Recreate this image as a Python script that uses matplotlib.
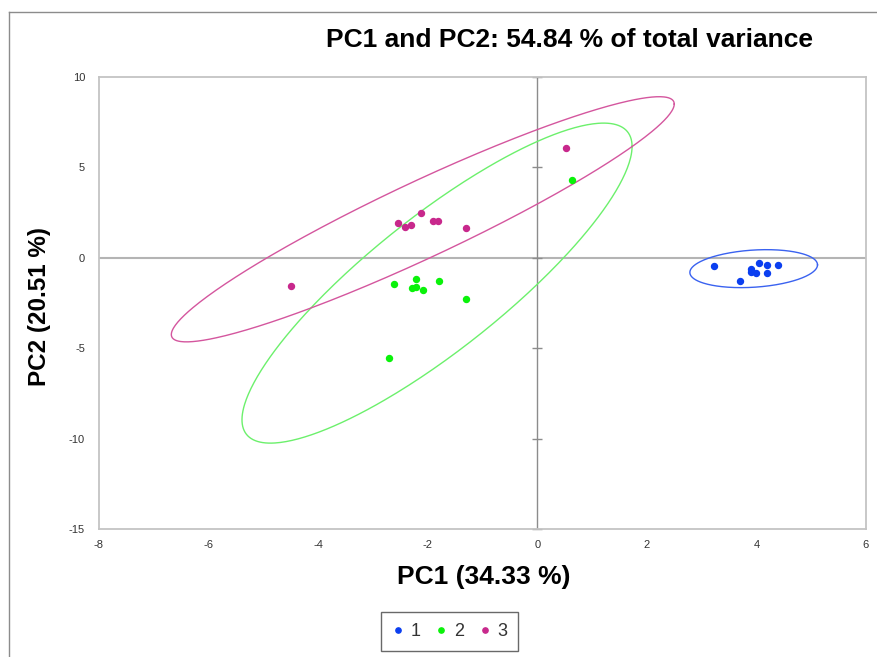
import numpy as np
import matplotlib
matplotlib.use("Agg")
import matplotlib.pyplot as plt
from matplotlib.lines import Line2D

plt.rcParams["font.family"] = ["Liberation Sans", "DejaVu Sans"]
plt.rcParams["axes.unicode_minus"] = False

# ---------- scores (PC1, PC2) per group ---------------------------------- #
groups = ["1", "2", "3"]
colors = ["#0b3ff0", "#0af20a", "#c8288c"]
ring_colors = ["#3a62f0", "#6cf06c", "#d4569e"]

pc1_g1 = [3.23, 4.05, 4.20, 4.39, 3.91, 3.90, 4.00, 4.20, 3.70]
pc2_g1 = [-0.45, -0.30, -0.42, -0.40, -0.64, -0.77, -0.82, -0.82, -1.27]

pc1_g2 = [-2.61, -2.21, -2.28, -2.22, -2.08, -1.79, -1.31, -2.71, 0.64]
pc2_g2 = [-1.43, -1.16, -1.67, -1.63, -1.78, -1.30, -2.26, -5.56, 4.30]

pc1_g3 = [-2.54, -2.42, -2.31, -2.13, -1.91, -1.82, -1.31, -4.50, 0.53]
pc2_g3 = [1.92, 1.72, 1.83, 2.50, 2.02, 2.02, 1.63, -1.55, 6.07]

# confidence ellipses: centre, half extents along PC1/PC2, correlation
ell_cx = [3.95, -1.83, -2.09]
ell_cy = [-0.60, -1.40, 2.13]
ell_sx = [1.165, 3.56, 4.59]
ell_sy = [1.05, 8.85, 6.78]
ell_r = [0.20, 0.854, 0.94]

x_ticks = [-8, -6, -4, -2, 0, 2, 4, 6]
y_ticks = [-15, -10, -5, 0, 5, 10]

pc1 = [pc1_g1, pc1_g2, pc1_g3]
pc2 = [pc2_g1, pc2_g2, pc2_g3]

fig = plt.figure(figsize=(8.78, 6.57), dpi=100)
ax = fig.add_axes([99 / 878, 1 - 529 / 657, 767 / 878, 452 / 657])

# centre lines through the origin
ax.axhline(0, color="#b4b4b4", lw=1.5, zorder=1)
ax.axvline(0, color="#8c8c8c", lw=1.0, zorder=1)
ax.plot([0] * len(y_ticks), y_ticks, ls="none", marker="_", ms=6.5,
        mew=1.0, color="#8c8c8c", zorder=1, clip_on=False)

t = np.linspace(0, 2 * np.pi, 400)
for i in range(3):
    ex = ell_cx[i] + ell_sx[i] * np.cos(t)
    ey = ell_cy[i] + ell_sy[i] * (ell_r[i] * np.cos(t)
                                  + np.sqrt(1 - ell_r[i] ** 2) * np.sin(t))
    ax.plot(ex, ey, color=ring_colors[i], lw=1.0, zorder=2)
    ax.plot(pc1[i], pc2[i], ls="none", marker="o", ms=4.3,
            color=colors[i], zorder=3)

ax.set_xlim(-8, 6)
ax.set_ylim(-15, 10)
ax.set_xticks(x_ticks)
ax.set_yticks(y_ticks)
ax.tick_params(length=0, labelsize=8, labelcolor="#333333")
ax.tick_params(axis="x", pad=8)
ax.tick_params(axis="y", pad=10)
for s in ax.spines.values():
    s.set_color("#c4c4c4")
    s.set_linewidth(1.3)

fig.text(570 / 878, 1 - 40 / 657, "PC1 and PC2: 54.84 % of total variance",
         ha="center", va="center", fontsize=19, fontweight="bold")
fig.text(484 / 878, 1 - 577 / 657, "PC1 (34.33 %)",
         ha="center", va="center", fontsize=19, fontweight="bold")
fig.text(40 / 878, 1 - 306 / 657, "PC2 (20.51 %)", rotation=90,
         ha="center", va="center", fontsize=17.5, fontweight="bold")

handles = [Line2D([], [], ls="none", marker="o", ms=3.8, color=c) for c in colors]
leg = fig.legend(handles, groups, loc="center", bbox_to_anchor=(449.5 / 878, 1 - 631.5 / 657),
                 ncol=3, frameon=True, fancybox=False, fontsize=13,
                 handlelength=0.7, handletextpad=0.35, columnspacing=0.8,
                 borderpad=0.6, labelcolor="#333333")
leg.get_frame().set_edgecolor("#444444")
leg.get_frame().set_linewidth(1.0)

# outer chart frame
fig.add_artist(Line2D([9 / 878, 9 / 878], [0, 1 - 12 / 657],
                      transform=fig.transFigure, color="#8c8c8c", lw=1.0))
fig.add_artist(Line2D([9 / 878, 1], [1 - 12 / 657, 1 - 12 / 657],
                      transform=fig.transFigure, color="#8c8c8c", lw=1.0))

fig.savefig("out.png", dpi=100)
